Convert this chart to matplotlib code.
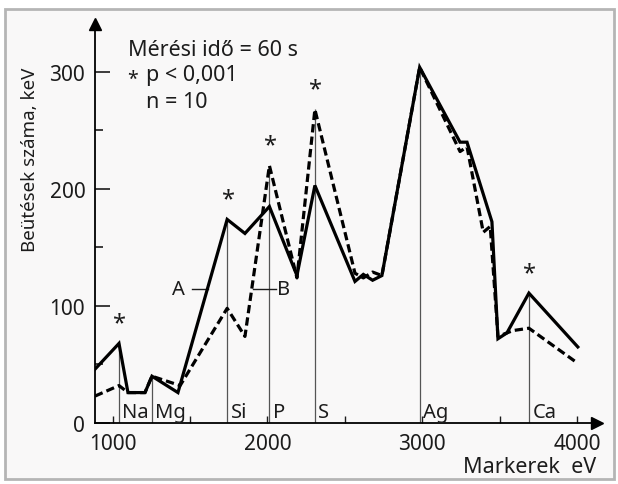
import numpy as np
import matplotlib
matplotlib.use('Agg')
import matplotlib.pyplot as plt
from matplotlib.patches import Rectangle
from matplotlib.ticker import MultipleLocator

plt.rcParams['font.family'] = ['Noto Sans', 'DejaVu Sans']

# curve A (solid) and curve B (dashed), counts vs marker energy
a_ev = [886, 1041, 1099, 1209, 1254, 1422, 1740, 1855, 2013, 2191, 2307,
        2566, 2620, 2680, 2740, 2984, 3245, 3290, 3451, 3490, 3548, 3690, 4006]
a_val = [46, 68, 26, 26, 40, 26, 174, 162, 185, 126, 203,
         121, 127, 122, 126, 304, 240, 240, 172, 72, 77, 111, 65]
b_ev = [886, 1041, 1099, 1209, 1254, 1436, 1740, 1855, 2013, 2191, 2307,
        2566, 2620, 2680, 2740, 2984, 3245, 3290, 3395, 3440, 3490, 3587, 3690, 4006]
b_val = [23, 32, 26, 26, 40, 32, 98, 74, 220, 124, 268,
         128, 124, 129, 126, 304, 232, 236, 163, 168, 74, 79, 81, 51]

elements = ['Na', 'Mg', 'Si', 'P', 'S', 'Ag', 'Ca']
element_ev = [1041, 1254, 1740, 2013, 2307, 2984, 3690]
significant = ['Na', 'Si', 'P', 'S', 'Ca']

W, H = 618, 485
fig = plt.figure(figsize=(W / 100, H / 100), dpi=100, facecolor='white')

def fp(x, y):
    # pixel position -> figure fraction
    return x / W, 1 - y / H

# scanned page frame
fig.add_artist(Rectangle(fp(5, 480), 609 / W, 470 / H, transform=fig.transFigure,
                         facecolor='#f9f8f8', edgecolor='#b5b5b5', lw=2, zorder=-10))

ax = fig.add_axes([95 / W, 61 / H, 502 / W, 399 / H])
ax.set_facecolor('none')
ax.set_xlim(886, 4130)
ax.set_ylim(0, 341)

ink = '#1c1c1c'
ax.plot(a_ev, a_val, color='black', lw=2.3, solid_joinstyle='miter', zorder=4)
ax.plot(b_ev, b_val, color='black', lw=2.3, linestyle=(0, (2.6, 1.3)), zorder=4)

# marker lines up to the higher curve
tops = [max(np.interp(e, a_ev, a_val), np.interp(e, b_ev, b_val)) for e in element_ev]
ax.vlines(element_ev, 0, tops, color='#555555', lw=0.9, zorder=2)
for name, e, t in zip(elements, element_ev, tops):
    ax.text(e + 22, 9, name, fontsize=14.5, color=ink, ha='left', va='center')
    if name in significant:
        ax.text(e, t + 17, '*', fontsize=17, color=ink, ha='center', va='center')

# A / B labels
ax.plot([1513, 1616], [114.5, 114.5], color=ink, lw=1)
ax.text(1422, 114.5, 'A', fontsize=14.5, color=ink, ha='center', va='center')
ax.plot([1907, 2055], [114.5, 114.5], color=ink, lw=1)
ax.text(2105, 114.5, 'B', fontsize=14.5, color=ink, ha='center', va='center')

# axes look
for s in ['top', 'right']:
    ax.spines[s].set_visible(False)
for s in ['left', 'bottom']:
    ax.spines[s].set_color('black')
    ax.spines[s].set_linewidth(1.3)
ax.plot(886, 341, marker='^', color='black', ms=9, clip_on=False, zorder=5)
ax.plot(4130, 0, marker='>', color='black', ms=9, clip_on=False, zorder=5)

ax.set_xticks([1000, 2000, 3000, 4000])
ax.xaxis.set_minor_locator(MultipleLocator(500))
ax.set_yticks([0, 100, 200, 300])
ax.yaxis.set_minor_locator(MultipleLocator(50))
ax.tick_params(axis='x', which='both', direction='in', length=5, width=1, color=ink,
               labelsize=15, labelcolor=ink, pad=7)
ax.tick_params(axis='y', which='major', direction='in', length=11, width=1.2, color=ink,
               labelsize=15, labelcolor=ink, pad=7)
ax.tick_params(axis='y', which='minor', direction='in', length=6, width=1.2, color=ink)

# texts
fig.text(*fp(30, 160), 'Beütések száma, keV', rotation=90, fontsize=13.5, color=ink,
         ha='center', va='center')
fig.text(*fp(596, 468), 'Markerek  eV', fontsize=15.5, color=ink, ha='right', va='center')
fig.text(*fp(128, 50), 'Mérési idő = 60 s', fontsize=15.5, color=ink, ha='left', va='center')
fig.text(*fp(133, 80), '*', fontsize=14, color=ink, ha='center', va='center')
fig.text(*fp(146, 75), 'p < 0,001', fontsize=15.5, color=ink, ha='left', va='center')
fig.text(*fp(146, 102), 'n = 10', fontsize=15.5, color=ink, ha='left', va='center')

fig.savefig('out.png', dpi=100, facecolor='white')
